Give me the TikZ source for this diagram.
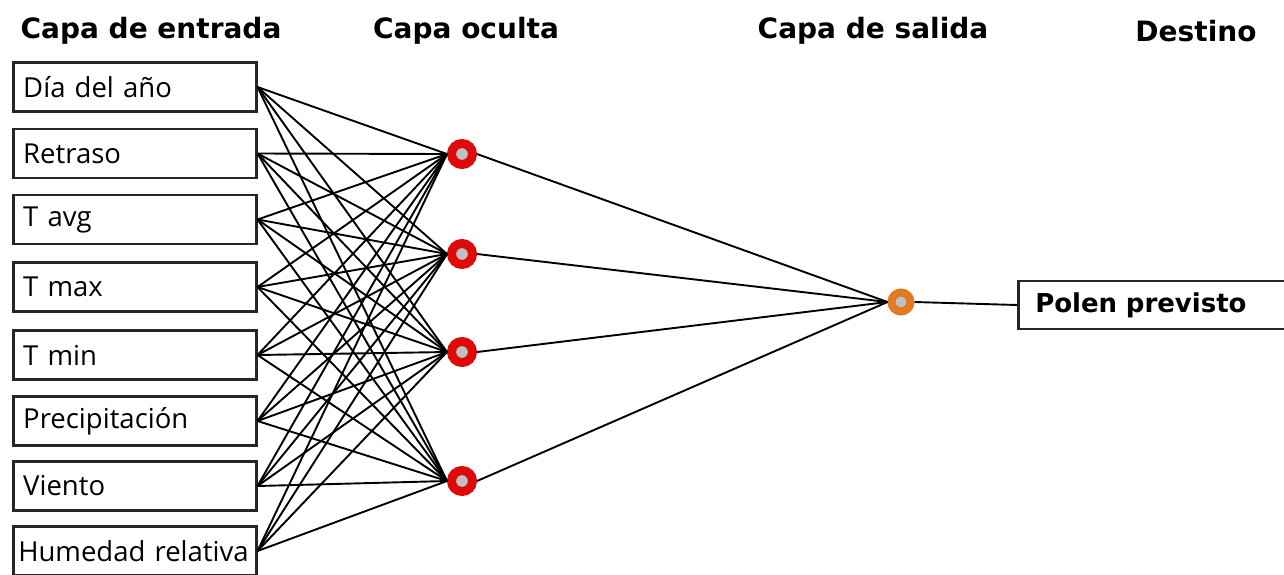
\documentclass[tikz,border=0pt]{standalone}
\usepackage{fontspec}
\setmainfont{Open Sans}
\newfontfamily\headfont{DejaVu Sans}
\definecolor{ringred}{RGB}{222,10,10}
\definecolor{ringorange}{RGB}{226,122,34}
\definecolor{coregray}{RGB}{192,192,192}
\begin{document}
\begin{tikzpicture}[x=1pt,y=-1pt,
  inbox/.style={draw=black!85,line width=2.5pt,anchor=west,minimum height=49pt,
    text width=223pt,inner xsep=10pt,inner ysep=0pt,align=left,
    font=\fontsize{27.5}{30}\selectfont},
  outbox/.style={draw=black!85,line width=2.5pt,anchor=west,minimum height=48pt,
    text width=300pt,inner xsep=17pt,inner ysep=0pt,align=left,
    font=\headfont\bfseries\fontsize{26}{29}\selectfont},
  hid/.style={circle,draw=ringred,fill=coregray,line width=9pt,minimum size=21pt,inner sep=0pt},
  outn/.style={circle,draw=ringorange,fill=coregray,line width=8pt,minimum size=19pt,inner sep=0pt},
  head/.style={font=\headfont\bfseries\fontsize{28}{31}\selectfont},
  conn/.style={line width=1.9pt,black}]
\useasboundingbox[fill=white] (0,0) rectangle (1284,574);
\node[head] (h1) at (151,31) {Capa de entrada};
\node[head] (h2) at (466,31) {Capa oculta};
\node[head] (h3) at (873,31) {Capa de salida};
\node[head] (h4) at (1196,31) {Destino};
\node[inbox] (i1) at (12,87) {Día del año};
\node[inbox] (i2) at (12,153.5) {Retraso};
\node[inbox] (i3) at (12,219.5) {T avg};
\node[inbox] (i4) at (12,287) {T max};
\node[inbox] (i5) at (12,355) {T min};
\node[inbox] (i6) at (12,421) {Precipitación};
\node[inbox] (i7) at (12,486) {Viento};
\node[inbox,inner xsep=5pt,text width=233pt] (i8) at (12,551) {\mbox{Humedad relativa}};
\node[hid] (o1) at (462,154) {};
\node[hid] (o2) at (462,254) {};
\node[hid] (o3) at (462,352) {};
\node[hid] (o4) at (462,481) {};
\node[outn] (y) at (901,302) {};
\node[outbox] (t) at (1017,305) {Polen previsto};
\foreach \i in {1,...,8}{
  \foreach \j in {1,...,4}{
    \draw[conn] (i\i.east) -- (o\j.west);
  }
}
\foreach \j in {1,...,4}{
  \draw[conn] (o\j.east) -- (y.west);
}
\draw[conn] (y.east) -- (t.west);
\end{tikzpicture}
\end{document}
